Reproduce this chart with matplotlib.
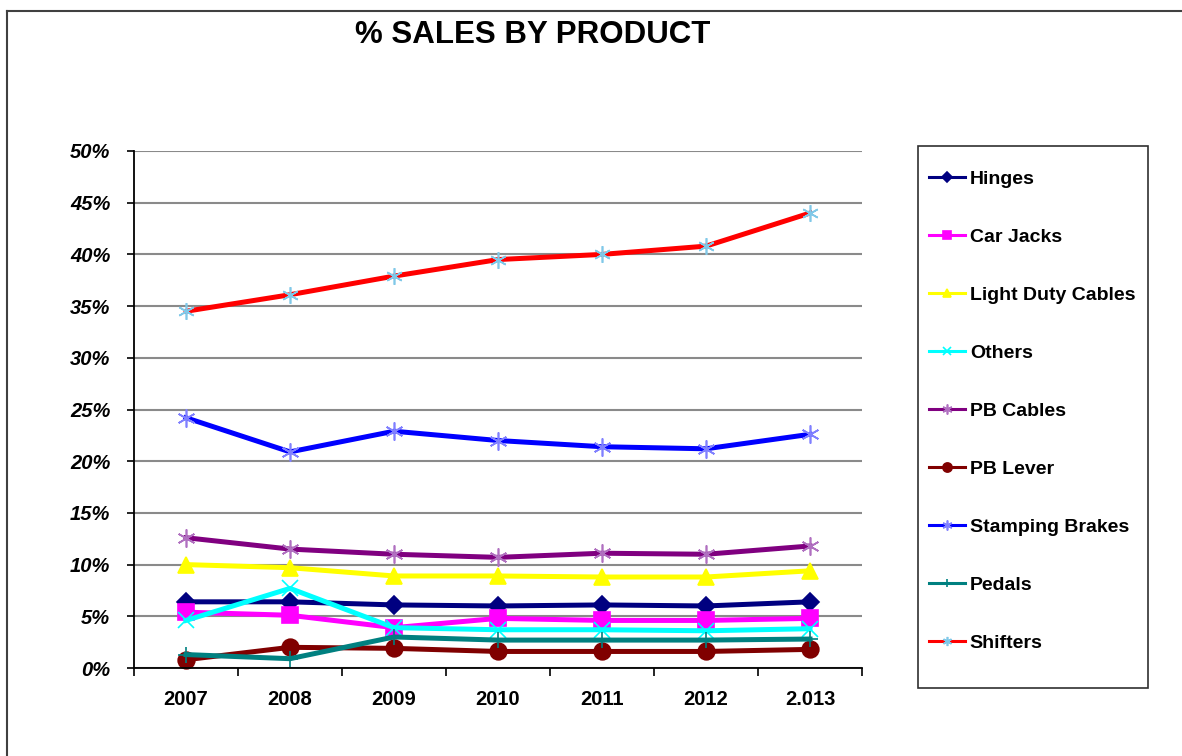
import matplotlib
matplotlib.use("Agg")
import matplotlib.pyplot as plt
from matplotlib.lines import Line2D
from matplotlib.patches import Rectangle
from matplotlib.ticker import FixedLocator, PercentFormatter

plt.rcParams['font.family'] = ['Liberation Sans', 'DejaVu Sans']

years = ['2007', '2008', '2009', '2010', '2011', '2012', '2.013']

hinges = [6.4, 6.4, 6.1, 6.0, 6.1, 6.0, 6.4]
car_jacks = [5.4, 5.1, 3.9, 4.8, 4.6, 4.6, 4.8]
light_duty = [10.0, 9.7, 8.9, 8.9, 8.8, 8.8, 9.4]
others = [4.6, 7.7, 3.9, 3.7, 3.7, 3.6, 3.8]
pb_cables = [12.6, 11.5, 11.0, 10.7, 11.1, 11.0, 11.8]
pb_lever = [0.8, 2.0, 1.9, 1.6, 1.6, 1.6, 1.8]
stamping = [24.2, 20.9, 22.9, 22.0, 21.4, 21.2, 22.6]
pedals = [1.3, 0.9, 3.0, 2.7, 2.7, 2.7, 2.8]
shifters = [34.5, 36.1, 37.9, 39.5, 40.0, 40.8, 44.0]

# label, values, line colour, marker, marker size, marker colour
series = [
    ('Hinges', hinges, '#000080', 'D', 9, '#000080'),
    ('Car Jacks', car_jacks, '#FF00FF', 's', 11, '#FF00FF'),
    ('Light Duty Cables', light_duty, '#FFFF00', '^', 11, '#FFFF00'),
    ('Others', others, '#00FFFF', 'x', 11, '#00FFFF'),
    ('PB Cables', pb_cables, '#800080', (6, 2, 0), 13, '#B070C0'),
    ('PB Lever', pb_lever, '#800000', 'o', 12, '#800000'),
    ('Stamping Brakes', stamping, '#0000FF', (6, 2, 0), 13, '#8080FF'),
    ('Pedals', pedals, '#008080', '+', 11, '#008080'),
    ('Shifters', shifters, '#FF0000', (6, 2, 0), 12, '#80C8E8'),
]

W, H = 1182, 756
fig = plt.figure(figsize=(W / 100, H / 100), dpi=100)
ax = fig.add_axes([134 / W, 1 - 668 / H, (862 - 134) / W, (668 - 151) / H])

x = list(range(len(years)))
for label, vals, color, marker, ms, mcolor in series:
    ax.plot(x, vals, color=color, lw=3.6, marker=marker, markersize=ms,
            markerfacecolor=mcolor, markeredgecolor=mcolor, markeredgewidth=1.2,
            label=label, clip_on=False)

ax.set_xlim(-0.5, len(years) - 0.5)
ax.set_ylim(0, 50)
ax.yaxis.set_major_locator(FixedLocator(range(0, 55, 5)))
ax.yaxis.set_major_formatter(PercentFormatter(decimals=0))
ax.grid(axis='y', color='#8a8a8a', lw=1.5)
ax.set_axisbelow(True)

ax.set_xticks(x)
ax.set_xticklabels(years)
ax.set_xticks([i - 0.5 for i in range(len(years) + 1)], minor=True)
ax.tick_params(axis='x', which='major', length=0, pad=16, labelsize=14.5)
ax.tick_params(axis='x', which='minor', length=6, width=1.2, direction='out')
ax.tick_params(axis='y', length=5, width=1.2, pad=12, labelsize=14.5)
for t in ax.get_xticklabels():
    t.set_fontweight('bold')
for t in ax.get_yticklabels():
    t.set_fontweight('bold')
    t.set_fontstyle('italic')

ax.spines['top'].set_visible(False)
ax.spines['right'].set_visible(False)
ax.spines['left'].set_linewidth(1.3)
ax.spines['bottom'].set_linewidth(1.3)

# legend entries without frame, box drawn separately
leg = fig.legend(loc='upper left', bbox_to_anchor=(929 / W, 1 - 170 / H),
                 borderaxespad=0, borderpad=0, frameon=False,
                 markerscale=0.55, handlelength=1.85, handletextpad=0.25,
                 labelspacing=2.08, prop={'weight': 'bold', 'size': 14})
for h in leg.legend_handles:
    h.set_linewidth(2.2)
fig.add_artist(Rectangle((918 / W, 1 - 688 / H), 230 / W, 542 / H,
                         transform=fig.transFigure, fill=False,
                         edgecolor='#303030', lw=1.2))

fig.text(533 / W, 1 - 35 / H, '% SALES BY PRODUCT', ha='center', va='center',
         fontsize=22.5, fontweight='bold')

# outer chart border (top and left edges visible)
fig.add_artist(Line2D([7 / W, 1], [1 - 11 / H, 1 - 11 / H], color='#404040', lw=1.5))
fig.add_artist(Line2D([7 / W, 7 / W], [0, 1 - 11 / H], color='#404040', lw=1.5))

fig.savefig('out.png', dpi=100)
